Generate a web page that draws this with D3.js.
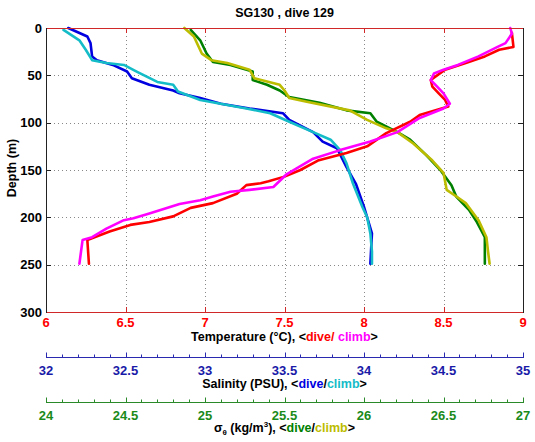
<!DOCTYPE html>
<html><head><meta charset="utf-8">
<script src="https://cdn.jsdelivr.net/npm/d3@7"></script>
<style>
body{margin:0;background:#fff;}
text{font-family:"Liberation Sans",Arial,sans-serif;font-weight:bold;}
</style></head>
<body><svg id="c" width="535" height="442"></svg>
<script>
// ---- data: [depth (m), value] ----
const titleText = "SG130 , dive 129";
const depthTicks = [0,50,100,150,200,250,300];
const tempTicks = [6,6.5,7,7.5,8,8.5,9];
const salTicks = [32,32.5,33,33.5,34,34.5,35];
const sigTicks = [24,24.5,25,25.5,26,26.5,27];

const tempDive = [[5,8.93],[20,8.94],[23,8.85],[30,8.76],[37,8.64],[44,8.51],[55,8.42],[62,8.43],[69,8.47],[76,8.51],[83,8.53],[92,8.35],[99,8.29],[111,8.14],[125,8.02],[132,7.89],[140,7.71],[150,7.6],[157,7.5],[162,7.4],[164,7.35],[166,7.26],[175,7.2],[185,7.05],[190,6.91],[199,6.8],[205,6.65],[208,6.53],[215,6.4],[224,6.26],[249,6.27]];
const tempClimb = [[0,8.92],[6,8.93],[16,8.89],[20,8.84],[30,8.72],[39,8.59],[44,8.5],[48,8.44],[55,8.42],[62,8.46],[69,8.5],[80,8.54],[85,8.5],[95,8.35],[110,8.21],[120,8.04],[129,7.85],[138,7.68],[146,7.6],[155,7.51],[168,7.43],[171,7.28],[173,7.16],[178,7.05],[182,6.97],[186,6.84],[196,6.65],[201,6.55],[203,6.49],[212,6.38],[221,6.29],[224,6.23],[249,6.21]];
const salDive = [[0,32.14],[9,32.26],[16,32.28],[30,32.29],[34,32.32],[39,32.42],[46,32.51],[53,32.54],[60,32.65],[66,32.8],[69,32.84],[74,32.97],[80,33.1],[85,33.28],[90,33.49],[97,33.53],[110,33.68],[120,33.74],[127,33.83],[147,33.89],[165,33.95],[189,34.0],[217,34.05],[249,34.04]];
const salClimb = [[2,32.11],[13,32.21],[23,32.25],[34,32.29],[37,32.38],[39,32.49],[46,32.57],[57,32.7],[60,32.8],[67,32.83],[76,32.97],[85,33.26],[90,33.41],[99,33.53],[110,33.68],[118,33.79],[129,33.85],[143,33.89],[164,33.93],[189,33.99],[200,34.02],[217,34.04],[236,34.05],[249,34.05]];
const sigDive = [[2,24.91],[13,24.97],[27,25.01],[36,25.05],[39,25.16],[46,25.3],[55,25.3],[60,25.39],[66,25.47],[73,25.53],[79,25.72],[87,25.89],[90,26.04],[99,26.08],[110,26.21],[118,26.29],[134,26.39],[150,26.48],[166,26.55],[178,26.58],[192,26.66],[205,26.71],[221,26.76],[249,26.76]];
const sigClimb = [[0,24.87],[9,24.93],[27,24.98],[34,25.04],[37,25.14],[44,25.28],[53,25.31],[60,25.47],[66,25.5],[74,25.53],[78,25.64],[87,25.91],[97,26.02],[106,26.14],[110,26.21],[122,26.31],[140,26.43],[153,26.5],[171,26.52],[179,26.59],[185,26.64],[203,26.72],[221,26.77],[236,26.78],[249,26.79]];

// ---- layout ----
const L=46, R=523, T=28, B=312, CX=(L+R)/2;
const svg = d3.select("#c");
const y = d3.scaleLinear().domain([0,300]).range([T,B]);
const xT = d3.scaleLinear().domain([6,9]).range([L,R]);
const xS = d3.scaleLinear().domain([32,35]).range([L,R]);
const xG = d3.scaleLinear().domain([24,27]).range([L,R]);

const cRed="#ff0000", cMag="#ff00ff", cBlue="#0000e0", cCyan="#14bcc8", cGreen="#008000", cYel="#bcbc00";
const axRed="#d02828", labBlue="#1a1aa8", labGreen="#1a8a1a";

// grid
const grid = svg.append("g").attr("stroke","#888").attr("stroke-width",1).attr("stroke-dasharray","1,3");
depthTicks.slice(1,-1).forEach(d=>grid.append("line").attr("x1",L).attr("x2",R).attr("y1",Math.round(y(d))+0.5).attr("y2",Math.round(y(d))+0.5));
tempTicks.slice(1,-1).forEach(v=>grid.append("line").attr("y1",T).attr("y2",B).attr("x1",Math.round(xT(v))+0.5).attr("x2",Math.round(xT(v))+0.5));

// data lines
const mk = (sc)=>d3.line().x(d=>sc(d[1])).y(d=>y(d[0]));
const series = [
  [salDive,xS,cBlue],[salClimb,xS,cCyan],
  [sigDive,xG,cGreen],[sigClimb,xG,cYel],
  [tempDive,xT,cRed],[tempClimb,xT,cMag]
];
series.forEach(([data,sc,col])=>{
  svg.append("path").datum(data).attr("d",mk(sc)).attr("fill","none")
    .attr("stroke",col).attr("stroke-width",2.6).attr("stroke-linejoin","round").attr("stroke-linecap","round");
});

// box
svg.append("line").attr("x1",L).attr("x2",R).attr("y1",T+0.5).attr("y2",T+0.5).attr("stroke",axRed);
svg.append("line").attr("x1",L).attr("x2",R).attr("y1",B+0.5).attr("y2",B+0.5).attr("stroke",axRed);
svg.append("line").attr("x1",L+0.5).attr("x2",L+0.5).attr("y1",T).attr("y2",B+1).attr("stroke","#222");
svg.append("line").attr("x1",R+0.5).attr("x2",R+0.5).attr("y1",T).attr("y2",B+1).attr("stroke","#222");

// inner ticks
const tk = svg.append("g");
tempTicks.slice(1,-1).forEach(v=>{
  const px = Math.round(xT(v))+0.5;
  tk.append("line").attr("x1",px).attr("x2",px).attr("y1",T).attr("y2",T+5).attr("stroke",axRed);
  tk.append("line").attr("x1",px).attr("x2",px).attr("y1",B).attr("y2",B-5).attr("stroke",axRed);
});
depthTicks.slice(1,-1).forEach(d=>{
  const py = Math.round(y(d))+0.5;
  tk.append("line").attr("x1",L).attr("x2",L+5).attr("y1",py).attr("y2",py).attr("stroke","#222");
  tk.append("line").attr("x1",R).attr("x2",R-5).attr("y1",py).attr("y2",py).attr("stroke","#222");
});

// y tick labels
svg.append("g").selectAll("text").data(depthTicks).join("text")
  .attr("x",42).attr("y",d=>y(d)+4.5).attr("text-anchor","end").attr("font-size",13).attr("fill","#000").text(d=>d);
// temperature tick labels
svg.append("g").selectAll("text").data(tempTicks).join("text")
  .attr("x",d=>xT(d)).attr("y",327).attr("text-anchor","middle").attr("font-size",13).attr("fill",cRed).text(d=>d);

// extra x axes
function extraAxis(sc, ticks, yLine, col, labCol){
  const g = svg.append("g").attr("transform",`translate(0,${yLine})`);
  const minor = d3.range(sc.domain()[0], sc.domain()[1]+0.001, 0.1);
  g.append("line").attr("x1",L).attr("x2",R+1).attr("y1",0.5).attr("y2",0.5).attr("stroke",col);
  g.selectAll("line.mn").data(minor).join("line").attr("class","mn")
    .attr("x1",d=>Math.round(sc(d))+0.5).attr("x2",d=>Math.round(sc(d))+0.5).attr("y1",0.5).attr("y2",-2.5).attr("stroke",col);
  g.selectAll("line.mj").data(ticks).join("line").attr("class","mj")
    .attr("x1",d=>Math.round(sc(d))+0.5).attr("x2",d=>Math.round(sc(d))+0.5).attr("y1",0.5).attr("y2",-4.5).attr("stroke",col);
  g.selectAll("text").data(ticks).join("text").attr("x",d=>sc(d)).attr("y",17.5)
    .attr("text-anchor","middle").attr("font-size",13).attr("fill",labCol).text(d=>d);
}
extraAxis(xS, salTicks, 357, "#2a2ab0", labBlue);
extraAxis(xG, sigTicks, 402, "#2a8a2a", labGreen);

// titles
svg.append("text").attr("x",CX).attr("y",17).attr("text-anchor","middle").attr("font-size",12.5).attr("fill","#000").text(titleText);
svg.append("text").attr("transform","translate(16,168) rotate(-90)").attr("text-anchor","middle").attr("font-size",12.5).attr("fill","#000").text("Depth (m)");

function title(yb, parts){
  const t = svg.append("text").attr("x",CX).attr("y",yb).attr("text-anchor","middle").attr("font-size",12.5).attr("fill","#000");
  parts.forEach(p=>{
    const s = t.append("tspan").text(p.t);
    if(p.c) s.attr("fill",p.c);
    if(p.fs) s.attr("font-size",p.fs);
    if(p.dy!==undefined) s.attr("dy",p.dy);
  });
}
title(341,[{t:"Temperature (°C), <"},{t:"dive/",c:cRed},{t:" climb",c:cMag},{t:">"}]);
title(387.5,[{t:"Salinity (PSU), <"},{t:"dive",c:cBlue},{t:"/"},{t:"climb",c:cCyan},{t:">"}]);
title(432,[{t:"σ",fs:12.5},{t:"θ",fs:8,dy:3},{t:" (kg/m",dy:-3},{t:"3",fs:8,dy:-5},{t:"), <",dy:5},{t:"dive",c:cGreen},{t:"/"},{t:"climb",c:cYel},{t:">"}]);
</script></body></html>
